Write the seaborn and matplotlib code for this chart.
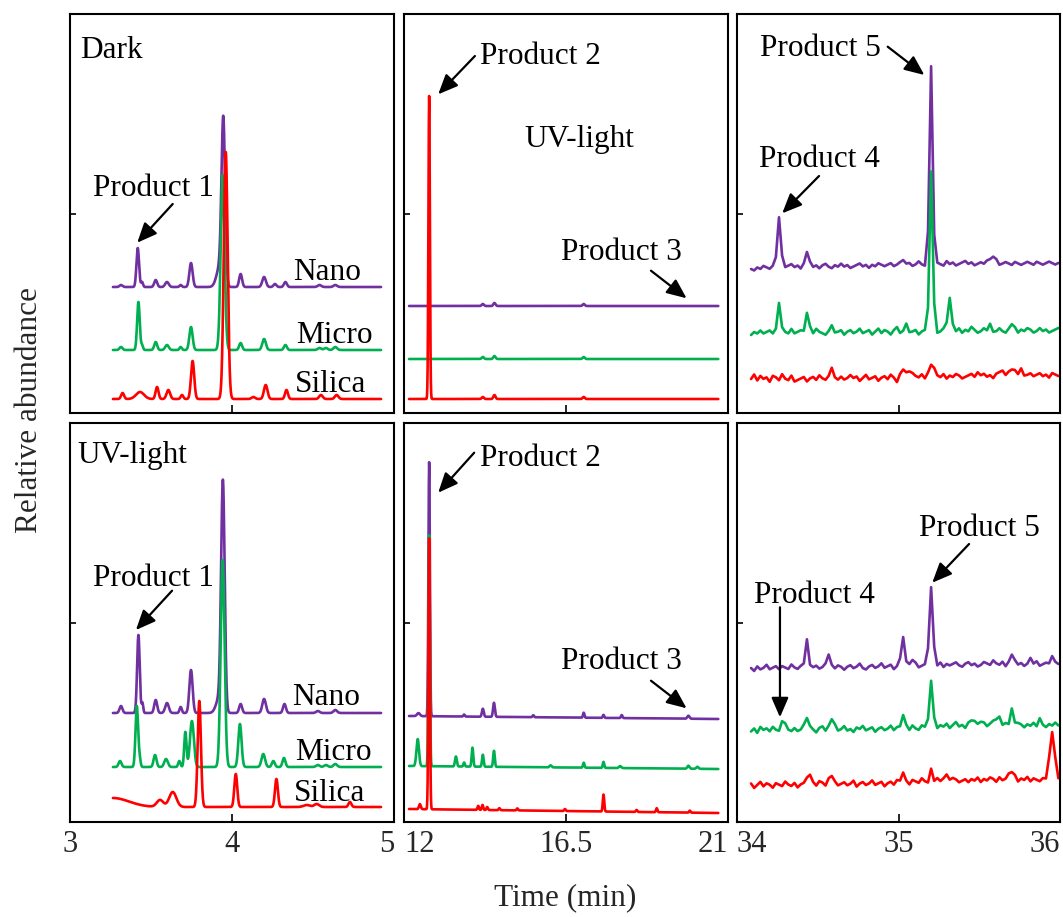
import numpy as np
import matplotlib
matplotlib.use("Agg")
import matplotlib.pyplot as plt
import seaborn as sns

# ---------------- colours ----------------
PURPLE, GREEN, RED = "#7030A0", "#00B050", "#FF0000"

# ---------------- axes ----------------
COL_LIMITS = [(3, 5), (12, 21), (34, 36)]
COL_TICKS = [[3, 4, 5], [12, 16.5, 21], [34, 35, 36]]
COL_TICKLABELS = [["3", "4", "5"], ["12", "16.5", "21"], ["34", "35", "36"]]
COL_TICK_HA = [["center", "center", "right"], ["left", "center", "right"], ["left", "center", "right"]]
Y_MAX = 399  # relative abundance (arbitrary units)

# trace time ranges per column
RANGE_A = (3.265, 4.92)
RANGE_B = (12.14, 20.73)
RANGE_C = (34.087, 35.99)

# ---------------- panel A : Dark, 3-5 min ----------------
# baseline (start, end) and peaks (retention time, height, width)
A_NANO_BASE = (126, 126)
A_NANO_PEAKS = [(3.315, 2, .009), (3.418, 39, .008), (3.445, 5, .006), (3.529, 7, .009),
                (3.599, 5, .011), (3.683, 2, .007), (3.747, 24, .010), (3.925, 20, .020),
                (3.946, 160, .011), (4.053, 13, .009), (4.198, 10, .011), (4.265, 3, .009),
                (4.330, 5, .009), (4.540, 2, .011), (4.638, 2, .011)]
A_MICRO_BASE = (63, 63)
A_MICRO_PEAKS = [(3.315, 3, .009), (3.422, 48, .008), (3.445, 5, .006), (3.529, 8, .009),
                 (3.599, 5, .011), (3.683, 3, .007), (3.747, 23, .010), (3.942, 175, .012),
                 (4.053, 7, .009), (4.198, 11, .011), (4.330, 5, .009), (4.540, 2, .011),
                 (4.580, 2, .011), (4.638, 3, .011)]
A_SILICA_BASE = (14, 14)
A_SILICA_PEAKS = [(3.325, 6, .009), (3.432, 7, .025), (3.537, 12, .009), (3.607, 9, .011),
                  (3.691, 4, .008), (3.757, 38, .010), (3.961, 247, .012), (4.132, 2, .011),
                  (4.208, 14, .011), (4.336, 9, .009), (4.549, 4, .011), (4.646, 4, .011)]

# ---------------- panel D : UV-light, 3-5 min ----------------
D_NANO_BASE = (109, 109)
D_NANO_PEAKS = [(3.315, 7, .009), (3.422, 78, .008), (3.447, 10, .005), (3.529, 13, .009),
                (3.599, 10, .011), (3.683, 6, .007), (3.747, 43, .010), (3.922, 15, .020),
                (3.944, 225, .011), (4.053, 9, .009), (4.198, 14, .011), (4.324, 9, .009),
                (4.530, 2, .011), (4.638, 3, .011)]
D_MICRO_BASE = (55, 55)
D_MICRO_PEAKS = [(3.309, 6, .009), (3.412, 61, .008), (3.430, 8, .006), (3.525, 12, .009),
                 (3.593, 8, .011), (3.675, 6, .007), (3.712, 35, .007), (3.753, 46, .012),
                 (3.942, 207, .012), (4.049, 43, .010), (4.193, 13, .011), (4.255, 6, .009),
                 (4.321, 9, .009), (4.530, 2, .011), (4.580, 2, .011), (4.638, 3, .011)]
D_SILICA_BASE = (15, 15)
D_SILICA_PEAKS = [(3.220, 9, .100), (3.556, 7, .020), (3.634, 15, .022), (3.798, 106, .010),
                  (4.023, 33, .009), (4.274, 28, .009), (4.461, 2, .020), (4.523, 3, .015),
                  (4.728, 5, .009)]

# ---------------- panel B : Dark, 12-21 min ----------------
B_NANO_BASE = (107, 107)
B_NANO_PEAKS = [(14.19, 2, .03), (14.51, 3, .03), (16.99, 2, .03)]
B_MICRO_BASE = (54, 54)
B_MICRO_PEAKS = [(14.19, 2, .03), (14.51, 3, .03), (16.99, 2, .03)]
B_SILICA_BASE = (14, 14)
B_SILICA_PEAKS = [(12.70, 303, .020), (14.19, 2, .03), (14.51, 4, .03), (16.99, 2, .03)]

# ---------------- panel E : UV-light, 12-21 min ----------------
E_NANO_BASE = (106, 103)
E_NANO_PEAKS = [(12.40, 3, .04), (12.70, 254, .020), (13.67, 2, .02), (14.19, 8, .025),
                (14.50, 14, .025), (15.59, 2, .02), (16.99, 5, .02), (17.54, 3, .02),
                (18.05, 3, .02), (19.90, 3, .03)]
E_MICRO_BASE = (56, 53)
E_MICRO_PEAKS = [(12.38, 27, .035), (12.70, 231, .020), (13.44, 10, .025), (13.67, 4, .02),
                 (13.90, 19, .022), (14.19, 12, .022), (14.50, 16, .022), (16.07, 2, .03),
                 (16.99, 5, .02), (17.54, 6, .02), (18.00, 2, .03), (19.90, 3, .03),
                 (20.15, 2, .03)]
E_SILICA_BASE = (13, 9)
E_SILICA_PEAKS = [(12.44, 5, .025), (12.70, 271, .020), (14.06, 4, .02), (14.18, 5, .02),
                  (14.31, 3, .02), (14.65, 2, .02), (15.15, 2, .02), (16.47, 2, .02),
                  (17.54, 17, .020), (18.46, 2, .02), (19.02, 4, .02), (19.94, 2, .02)]

# ---------------- panel C : Dark, 34-36 min ----------------
C_NANO_BASE = (147, 150)
C_NANO_PEAKS = [(34.266, 47, .011), (34.432, 15, .010), (35.026, 6, .010),
                (35.205, 198, .0100), (35.577, 7, .015)]
C_NANO_NOISE = [-2, -3, -1, -2, 0, -1, -2, 0, -1, 1,
                0, -1, 0, 1, -1, 0, -2, 0, -1, 1,
                -1, 0, -2, 0, 1, -1, -2, 0, -1, 1,
                -1, 0, -2, -1, 0, 1, -1, 0, -2, 0,
                -1, 1, 0, -1, 0, 1, -1, 0, 1, -1,
                0, 1, -1, 0, 2, 0, -1, 1, 0, -1,
                1, 0, -1, 2, 0, 1, -1, 0, 1, 2,
                0, 1, -1, 0, 1, 0, 2, 1, 0, 1,
                -1, 0, 1, 0, -1, 1, 0, -1, 0, 1,
                0, -1, 1, 0, -1, 0, 1, 0, -1, 0]
C_MICRO_BASE = (81, 82)
C_MICRO_PEAKS = [(34.266, 32, .009), (34.438, 19, .011), (34.582, 5, .010), (35.050, 5, .010),
                 (35.205, 160, .0100), (35.308, 32, .012), (35.560, 6, .010), (35.700, 7, .010)]
C_MICRO_NOISE = [-2, 0, -1, 1, -1, 0, 1, -1, 0, -2,
                 1, 0, -1, 2, -1, 0, 1, -2, 0, 1,
                 -1, 2, 0, -1, -2, 0, 1, -1, 0, 1,
                 -2, 0, 1, -1, 0, 2, -1, 0, 1, -2,
                 0, 2, -1, 1, 0, -2, 1, 3, -1, 0,
                 2, -1, 0, 1, -2, 0, 1, -1, 0, 2,
                 -1, 0, 2, 0, 1, -1, 0, 2, -1, 1,
                 0, 3, 1, -1, 0, 2, 0, 1, -1, 0,
                 2, 0, -1, 1, 0, 2, -1, 1, 0, 2,
                 1, -1, 0, 2, 0, 1, -1, 0, 1, 2]
C_SILICA_BASE = (34, 37)
C_SILICA_PEAKS = [(34.582, 6, .010), (35.026, 8, .012), (35.200, 11, .015),
                  (35.700, 7, .012), (35.760, 5, .010)]
C_SILICA_NOISE = [0, 3, -1, 2, 0, 1, -2, 2, 1, -1,
                  3, 0, -1, 2, -2, -1, 0, 1, -2, 0,
                  1, -1, 2, 0, -1, 1, 3, 0, -1, 1,
                  -1, 0, 2, 0, 1, -2, 0, 2, -1, 0,
                  1, -2, 0, 1, -1, 2, 0, -3, 1, 0,
                  2, 4, 3, 1, 0, 2, -1, 0, 1, 3,
                  1, 0, 2, -1, 1, 0, 2, 1, -1, 0,
                  1, 2, 0, 3, 1, 2, 0, 1, -1, 2,
                  3, 4, 1, 2, 0, 3, 1, 2, 0, 1,
                  2, 0, 1, 2, 0, 1, -1, 2, 1, 0]

# ---------------- panel F : UV-light, 34-36 min ----------------
F_NANO_BASE = (154, 158)
F_NANO_PEAKS = [(34.427, 25, .010), (34.571, 8, .012), (35.030, 29, .011), (35.096, 6, .008),
                (35.205, 80, .011), (35.705, 10, .010), (35.810, 5, .010), (35.950, 5, .010)]
F_NANO_NOISE = [0, -2, 1, -1, 0, 2, -1, 0, 1, -1,
                1, 0, -1, 2, 0, -1, 1, 0, 2, -1,
                0, 1, -1, 0, 1, 3, 0, -1, 1, 0,
                -2, 0, 1, -1, 0, 2, -1, -2, 0, 1,
                -1, 0, 2, -1, 0, 1, -2, 0, 1, 0,
                -1, 1, 0, 2, -1, 0, 1, 0, -1, 1,
                0, 2, -1, 1, 0, 1, 2, 0, -1, 1,
                2, 0, 1, -1, 0, 2, 1, 0, 3, 1,
                0, 2, -1, 1, 0, 2, 0, 1, -1, 0,
                1, 0, 2, -1, 0, 1, 0, 2, 1, 0]
F_MICRO_BASE = (92, 95)
F_MICRO_PEAKS = [(34.270, 7, .012), (34.430, 13, .010), (34.580, 13, .012), (35.030, 15, .010),
                 (35.200, 43, .011), (35.450, 6, .010), (35.500, 6, .010), (35.580, 7, .010),
                 (35.630, 8, .010), (35.705, 16, .011), (35.870, 6, .010)]
F_MICRO_NOISE = [-1, 1, -2, 2, 0, 1, -1, 2, 0, -2,
                 1, 3, 0, -1, 1, -1, 0, 2, -1, 1,
                 0, -2, 1, 2, -1, 0, -2, 1, -1, 0,
                 2, -1, 0, -2, 1, 0, 2, -1, 0, 1,
                 -2, 0, 1, -1, 0, 2, -1, 1, 0, -1,
                 1, -1, 2, 0, -1, 2, 1, 0, 3, 1,
                 0, 2, 1, 3, 0, 2, 4, 1, 2, 0,
                 3, 1, 4, 2, 0, 3, 1, 2, 0, 4,
                 2, 1, 3, 0, 2, 1, 3, 2, 0, 2,
                 1, 3, 0, 2, 1, 0, 2, 1, 3, 1]
F_SILICA_BASE = (37, 41)
F_SILICA_PEAKS = [(34.458, 8, .012), (34.580, 8, .010), (35.020, 9, .012), (35.200, 11, .010),
                  (35.300, 8, .010), (35.700, 8, .012), (35.955, 49, .016)]
F_SILICA_NOISE = [1, -2, 0, 2, -1, 1, 0, -2, 1, 0,
                  -1, 2, 0, -1, 1, -2, 0, 1, 3, 1,
                  0, -1, 2, 1, -1, 3, 0, 1, -1, 0,
                  1, -1, 0, 2, -2, 0, 1, -1, 0, 2,
                  -1, 0, 1, -2, 0, 1, -1, 2, 0, 1,
                  0, -1, 2, 1, 0, 3, 1, -1, 2, 0,
                  3, 1, 2, 0, 1, 3, 2, 0, 1, 2,
                  0, 2, 1, 3, 0, 2, 1, 3, 2, 0,
                  3, 1, 2, 4, 1, 3, 0, 2, 1, 3,
                  0, 2, 1, 0, 2, 0, 0, 0, 0, 0]
NOISE_UNIT = 1.5  # abundance units per noise step

# ---------------- annotations ----------------
# (panel, text, x, y)
TEXT_LABELS = [
    ("A", "Dark", 3.062, 354.7), ("A", "Product 1", 3.144, 217),
    ("A", "Nano", 4.379, 133), ("A", "Micro", 4.395, 69.7), ("A", "Silica", 4.389, 20.7),
    ("D", "UV-light", 3.045, 358.7), ("D", "Product 1", 3.144, 236.3),
    ("D", "Nano", 4.372, 117), ("D", "Micro", 4.389, 62), ("D", "Silica", 4.385, 21.3),
    ("B", "Product 2", 14.11, 348.7), ("B", "UV-light", 15.34, 266.3), ("B", "Product 3", 16.36, 153),
    ("E", "Product 2", 14.11, 356), ("E", "Product 3", 16.36, 152.7),
    ("C", "Product 5", 34.142, 357), ("C", "Product 4", 34.138, 246.3),
    ("F", "Product 5", 35.129, 286), ("F", "Product 4", 34.107, 219.3),
]
# (panel, tail x, tail y, head x, head y)
ARROWS = [
    ("A", 3.634, 209, 3.415, 170.3),
    ("D", 3.630, 231.3, 3.407, 192),
    ("B", 13.97, 357, 12.95, 318.7), ("B", 18.86, 142.3, 19.85, 114.7),
    ("E", 13.95, 369.3, 12.95, 329.3), ("E", 18.86, 141.3, 19.85, 113.7),
    ("C", 34.933, 366.3, 35.16, 338), ("C", 34.508, 237, 34.28, 199.7),
    ("F", 35.437, 278, 35.209, 239.3), ("F", 34.266, 214.7, 34.266, 104.7),
]


def build_trace(trange, base, peaks, noise=None, n=2000):
    if noise is None:
        t = np.linspace(trange[0], trange[1], n)
        y = np.linspace(base[0], base[1], n)
    else:
        nz = np.asarray(noise, float) * NOISE_UNIT
        t = np.linspace(trange[0], trange[1], len(nz))
        y = np.linspace(base[0], base[1], len(nz)) + nz
    for rt, h, w in peaks:
        c = t[np.argmin(np.abs(t - rt))]
        y = y + h * np.exp(-0.5 * ((t - c) / w) ** 2)
    return t, y


sns.set_theme(style="white")
plt.rcParams["font.family"] = ["Liberation Serif", "DejaVu Serif"]

fig = plt.figure(figsize=(10.63, 9.17), dpi=100)
W, H = 1063.0, 917.0
col_px = [(70, 394), (404, 728), (737, 1060)]
row_px = [(14, 413), (423, 822)]

panel_info = {
    "A": (0, 0, RANGE_A, [(A_NANO_BASE, A_NANO_PEAKS, None), (A_MICRO_BASE, A_MICRO_PEAKS, None), (A_SILICA_BASE, A_SILICA_PEAKS, None)]),
    "B": (0, 1, RANGE_B, [(B_NANO_BASE, B_NANO_PEAKS, None), (B_MICRO_BASE, B_MICRO_PEAKS, None), (B_SILICA_BASE, B_SILICA_PEAKS, None)]),
    "C": (0, 2, RANGE_C, [(C_NANO_BASE, C_NANO_PEAKS, C_NANO_NOISE), (C_MICRO_BASE, C_MICRO_PEAKS, C_MICRO_NOISE), (C_SILICA_BASE, C_SILICA_PEAKS, C_SILICA_NOISE)]),
    "D": (1, 0, RANGE_A, [(D_NANO_BASE, D_NANO_PEAKS, None), (D_MICRO_BASE, D_MICRO_PEAKS, None), (D_SILICA_BASE, D_SILICA_PEAKS, None)]),
    "E": (1, 1, RANGE_B, [(E_NANO_BASE, E_NANO_PEAKS, None), (E_MICRO_BASE, E_MICRO_PEAKS, None), (E_SILICA_BASE, E_SILICA_PEAKS, None)]),
    "F": (1, 2, RANGE_C, [(F_NANO_BASE, F_NANO_PEAKS, F_NANO_NOISE), (F_MICRO_BASE, F_MICRO_PEAKS, F_MICRO_NOISE), (F_SILICA_BASE, F_SILICA_PEAKS, F_SILICA_NOISE)]),
}

axes = {}
for key, (r, c, trange, traces) in panel_info.items():
    x0, x1 = col_px[c]
    y0, y1 = row_px[r]
    ax = fig.add_axes([x0 / W, 1 - y1 / H, (x1 - x0) / W, (y1 - y0) / H])
    axes[key] = ax
    for (base, peaks, noise), color in zip(traces, [PURPLE, GREEN, RED]):
        t, y = build_trace(trange, base, peaks, noise)
        sns.lineplot(x=t, y=y, ax=ax, color=color, linewidth=1.9, sort=False, estimator=None)
    ax.set_xlim(*COL_LIMITS[c])
    ax.set_ylim(0, Y_MAX)
    ax.set_xticks(COL_TICKS[c])
    ax.set_yticks([Y_MAX / 2])
    ax.set_yticklabels([])
    ax.set_xlabel("")
    ax.set_ylabel("")
    ax.tick_params(axis="x", direction="in", length=6, width=1.2, color="black",
                   labelsize=22, pad=6, bottom=True)
    ax.tick_params(axis="y", direction="in", length=4, width=1.2, color="black", left=True)
    if r == 1:
        ax.set_xticklabels(COL_TICKLABELS[c])
        for lab, ha in zip(ax.get_xticklabels(), COL_TICK_HA[c]):
            lab.set_horizontalalignment(ha)
    else:
        ax.set_xticklabels([])
    for sp in ax.spines.values():
        sp.set_visible(True)
        sp.set_color("black")
        sp.set_linewidth(1.5)

for key, s, x, y in TEXT_LABELS:
    axes[key].text(x, y, s, fontsize=22.5, ha="left", va="baseline", color="black")

for key, tx, ty, hx, hy in ARROWS:
    axes[key].annotate("", xy=(hx, hy), xytext=(tx, ty),
                       arrowprops=dict(arrowstyle="-|>,head_length=0.6,head_width=0.26",
                                       color="black", lw=1.6, mutation_scale=20,
                                       shrinkA=0, shrinkB=0))

fig.text(565 / W, 1 - 898 / H, "Time (min)", fontsize=22.5, ha="center", va="center")
fig.text(30 / W, 1 - 410 / H, "Relative abundance", fontsize=22.5, ha="center",
         va="center", rotation=90)

fig.savefig("out.png", dpi=100)
